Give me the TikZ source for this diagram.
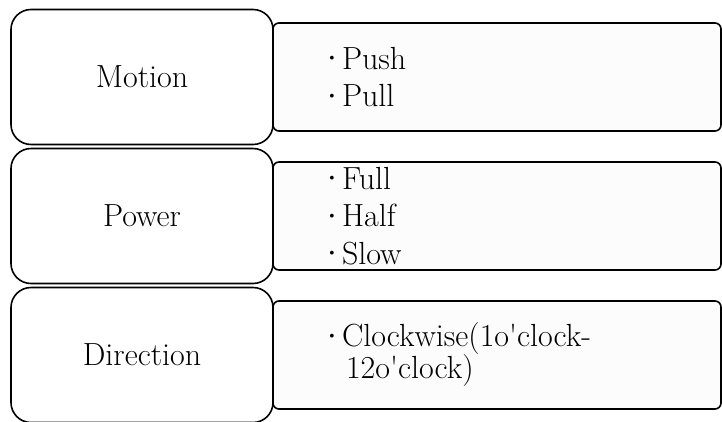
\documentclass[tikz,border=0pt]{standalone}
\usepackage{fontspec}
% bullet hung to the left of the item text
\newcommand\dotitem{\leavevmode\llap{\makebox[20pt]{\raisebox{7.5pt}{\fontsize{14}{14}\selectfont\textbullet}}}}
\tikzset{
  headbox/.style={draw, line width=1.6pt, fill=white, rounded corners=20pt,
    minimum width=262pt, minimum height=135pt, font=\fontsize{32}{37.5}\selectfont},
  listbox/.style={draw, line width=1.6pt, fill=gray!2, rounded corners=6pt,
    minimum height=108pt, text width=310pt, inner xsep=69pt, align=left,
    font=\fontsize{32}{37.5}\selectfont}
}
\begin{document}
\begin{tikzpicture}[x=1pt,y=-1pt]
    \useasboundingbox (0,0) rectangle (722,421);
    % item lists, drawn first so the heads sit over their left edges
    \node[listbox] (motionlist) at (497,77) {\dotitem Push\\ \dotitem Pull};
    \node[listbox] (powerlist) at (497,216) {\dotitem Full\\ \dotitem Half\\ \dotitem Slow};
    \node[listbox] (directionlist) at (497,355)
      {\dotitem Clockwise(1o\textquotesingle clock-\\[-5.5pt]\hspace*{4pt}12o\textquotesingle clock)};
    % heads
    \node[headbox] (motion) at (142,77) {Motion};
    \node[headbox] (power) at (142,216) {Power};
    \node[headbox] (direction) at (142,355) {Direction};
\end{tikzpicture}
\end{document}
